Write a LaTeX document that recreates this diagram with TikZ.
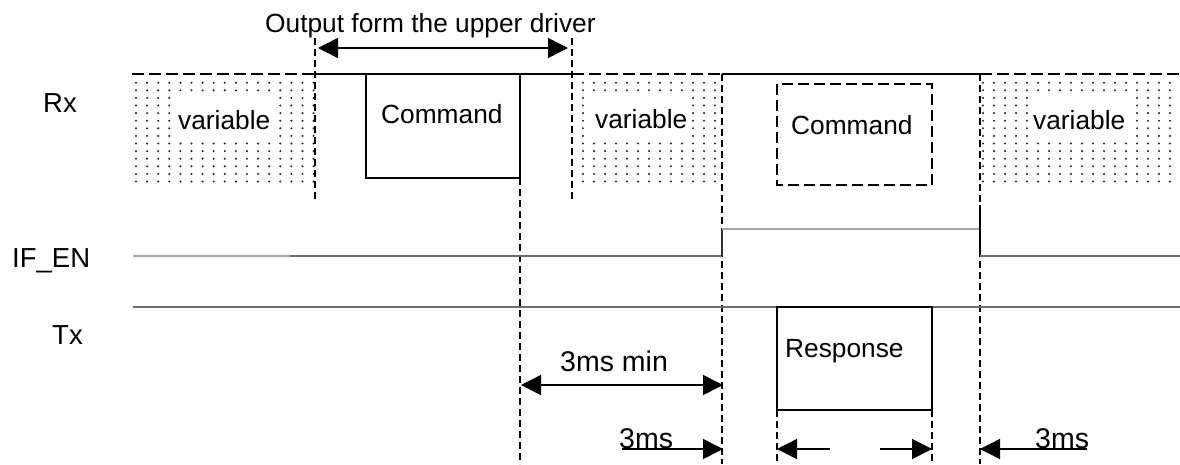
\documentclass[tikz,border=0pt]{standalone}
\usepackage{fontspec}
\setmainfont{Liberation Sans}
\usetikzlibrary{arrows.meta}
\definecolor{lvlgray}{HTML}{6E6E6E}
\definecolor{lvllight}{HTML}{A8A8A8}
\begin{document}
\begin{tikzpicture}[x=1pt,y=-1pt,
  sig/.style={line width=1.4pt,black},
  sigdash/.style={line width=1.4pt,black,dash pattern=on 12pt off 5pt},
  vdash/.style={line width=1.3pt,black,dash pattern=on 7pt off 4pt},
  boxdash/.style={line width=1.5pt,black,dash pattern=on 11pt off 5pt},
  lvl/.style={line width=2pt,lvlgray},
  lvllt/.style={line width=2pt,lvllight},
  txt/.style={inner sep=0pt,anchor=base west,font=\fontsize{26.3}{30}\selectfont},
  lbl/.style={inner sep=0pt,anchor=base west,font=\fontsize{27.5}{30}\selectfont},
  mstxt/.style={inner sep=0pt,anchor=base west,font=\fontsize{28.5}{30}\selectfont},
  dot/.style={fill=black!85},
  tip/.tip={Triangle[length=20pt,width=20pt]},
  dimr/.style={line width=1.5pt,-tip},
  dimb/.style={line width=1.5pt,tip-tip}
]
\useasboundingbox (0,0) rectangle (1180,464);

% stippled "variable" regions
\foreach \x in {136,147.1,...,314}
  \foreach \y in {82.7,90.3,...,183}
    \fill[dot] (\x,\y) circle (1.15pt);
\foreach \x in {583,594,...,716}
  \foreach \y in {82.7,90.3,...,183}
    \fill[dot] (\x,\y) circle (1.15pt);
\foreach \x in {983,994,...,1178}
  \foreach \y in {82.7,90.3,...,183}
    \fill[dot] (\x,\y) circle (1.15pt);
\fill[white] (173,93) rectangle (277,140);
\fill[white] (592,93) rectangle (690,138);
\fill[white] (1028,95) rectangle (1128,140);

% key coordinates
\coordinate (rxL) at (132,74);
\coordinate (a) at (315,74);
\coordinate (b) at (572,74);
\coordinate (c) at (722,74);
\coordinate (d) at (980,74);
\coordinate (rxR) at (1180,74);
\coordinate (aTop) at (315,38);
\coordinate (aBot) at (315,202);
\coordinate (bTop) at (572,38);
\coordinate (bBot) at (572,202);
\coordinate (cmdTL) at (366,74);
\coordinate (cmdBL) at (366,178);
\coordinate (cmdBR) at (520,178);
\coordinate (cmdTR) at (520,74);
\coordinate (cmdEnd) at (520,464);
\coordinate (cBot) at (722,464);
\coordinate (dBot) at (980,464);

% Rx top line
\draw[sigdash] (rxL) -- (a);
\draw[sig] (a) -- (b);
\draw[sigdash] (b) -- (c);
\draw[sig] (c) -- (d);
\draw[sigdash] (d) -- (rxR);

% first command frame
\draw[sig] (cmdTL) -- (cmdBL) -- (cmdBR) -- (cmdTR);

% second (dashed) command frame
\draw[boxdash] (777,84) rectangle (932,185);

% vertical dashed markers
\draw[vdash] (aTop) -- (aBot);
\draw[vdash] (bTop) -- (bBot);
\draw[vdash] (cmdBR) -- (cmdEnd);
\draw[vdash] (c) -- (cBot);
\draw[vdash] (d) -- (dBot);
\coordinate (rsBL) at (777,410);
\coordinate (rsBR) at (932,410);
\coordinate (rsL) at (777,464);
\coordinate (rsR) at (932,464);
\draw[vdash] (rsBL) -- (rsL);
\draw[vdash] (rsBR) -- (rsR);

% IF_EN
\coordinate (enS) at (133,256);
\coordinate (enM) at (290,256);
\coordinate (enRise) at (722,256);
\coordinate (enHi) at (722,229);
\coordinate (enHiEnd) at (980,229);
\coordinate (enFallTop) at (980,205);
\coordinate (enFall) at (980,256);
\coordinate (enE) at (1180,256);
\draw[lvllt] (enS) -- (enM);
\draw[lvl] (enM) -- (enRise);
\draw[line width=1.5pt,black!80] (enRise) -- (enHi);
\draw[lvllt] (enHi) -- (enHiEnd);
\draw[sig] (enFallTop) -- (enFall);
\draw[lvl] (enFall) -- (enE);

% Tx
\coordinate (txS) at (133,307);
\coordinate (txE) at (1180,307);
\draw[lvl] (txS) -- (txE);
\draw[sig] (777,307) rectangle (932,410);

% dimension arrows
\coordinate (o1) at (318,48);
\coordinate (o2) at (568,48);
\draw[dimb] (o1) -- (o2);
\coordinate (m1) at (521,385);
\coordinate (m2) at (723,385);
\draw[dimb] (m1) -- (m2);
\coordinate (t1) at (622,449);
\coordinate (t2) at (723,449);
\draw[dimr] (t1) -- (t2);
\coordinate (r1) at (830,449);
\coordinate (r2) at (777,449);
\draw[dimr] (r1) -- (r2);
\coordinate (r3) at (880,449);
\coordinate (r4) at (932,449);
\draw[dimr] (r3) -- (r4);
\coordinate (u1) at (1087,449);
\coordinate (u2) at (980,449);
\draw[dimr] (u1) -- (u2);

% texts
\node[txt] (title) at (265,32) {Output form the upper driver};
\node[lbl] (rx) at (43,112) {Rx};
\node[lbl] (ifen) at (12,267) {IF\_EN};
\node[lbl] (tx) at (52,344) {Tx};
\node[txt] (var1) at (178,129) {variable};
\node[txt] (var2) at (595,128) {variable};
\node[txt] (var3) at (1033,129) {variable};
\node[txt] (cmd1) at (381,123) {Command};
\node[txt] (cmd2) at (791,134) {Command};
\node[txt] (resp) at (785,357) {Response};
\node[mstxt] (msmin) at (560,371) {3ms min};
\node[mstxt] (ms1) at (619,448) {3ms};
\node[mstxt] (ms2) at (1035,448) {3ms};
\end{tikzpicture}
\end{document}
